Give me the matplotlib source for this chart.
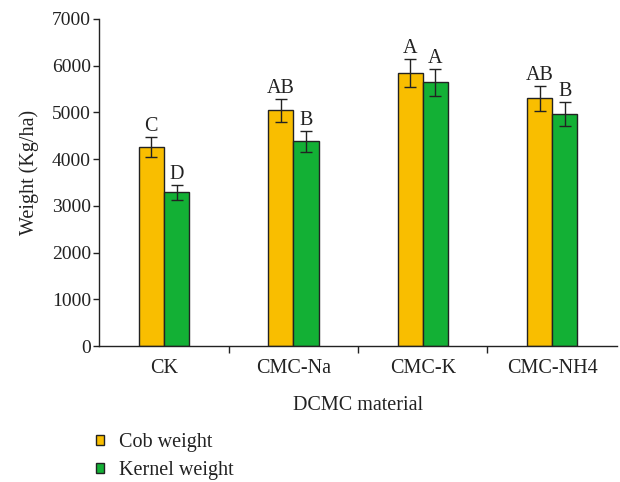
import matplotlib
matplotlib.use("Agg")
import matplotlib.pyplot as plt
import numpy as np

categories = ["CK", "CMC-Na", "CMC-K", "CMC-NH4"]
cob = [4260, 5040, 5840, 5300]
cob_err = [215, 250, 300, 265]
kernel = [3290, 4380, 5640, 4970]
kernel_err = [165, 220, 285, 255]
cob_letters = ["C", "AB", "A", "AB"]
kernel_letters = ["D", "B", "A", "B"]
yticks = [0, 1000, 2000, 3000, 4000, 5000, 6000, 7000]

plt.rcParams['font.family'] = ['Liberation Serif', 'DejaVu Serif']
tc = "#222222"

fig = plt.figure(figsize=(6.2, 4.82), dpi=100)
ax = fig.add_axes([0.16, 0.282, 0.835, 0.679])

x = np.arange(len(categories))
w = 0.195
c_cob = "#F9BE00"
c_ker = "#13B035"
ax.bar(x - w/2, cob, w, color=c_cob, edgecolor=tc, linewidth=1.0, label="Cob weight")
ax.bar(x + w/2, kernel, w, color=c_ker, edgecolor=tc, linewidth=1.0, label="Kernel weight")
ax.errorbar(x - w/2, cob, yerr=cob_err, fmt="none", ecolor=tc, elinewidth=1.0, capsize=4, capthick=1.0)
ax.errorbar(x + w/2, kernel, yerr=kernel_err, fmt="none", ecolor=tc, elinewidth=1.0, capsize=4, capthick=1.0)
for i in range(len(categories)):
    ax.text(x[i] - w/2, cob[i] + cob_err[i] + 20, cob_letters[i], ha="center", va="bottom", fontsize=14.5, color=tc)
    ax.text(x[i] + w/2, kernel[i] + kernel_err[i] + 20, kernel_letters[i], ha="center", va="bottom", fontsize=14.5, color=tc)

ax.set_xlim(-0.5, 3.5)
ax.set_ylim(0, 7000)
ax.set_yticks(yticks)
ax.set_xticks(x)
ax.set_xticklabels(categories, fontsize=14.5, color=tc)
ax.tick_params(axis="x", which="major", length=0, pad=9)
ax.set_xticks([0.5, 1.5, 2.5], minor=True)
ax.tick_params(axis="x", which="minor", length=5, width=1, direction="out", color=tc)
ax.tick_params(axis="y", labelsize=14, length=4, width=1, direction="out", pad=2, color=tc, labelcolor=tc)
for s in ["top", "right"]:
    ax.spines[s].set_visible(False)
for s in ["left", "bottom"]:
    ax.spines[s].set_linewidth(1.0)
    ax.spines[s].set_color(tc)
ax.set_ylabel("Weight (Kg/ha)", fontsize=14.5, color=tc)
ax.yaxis.set_label_coords(-0.117, 0.53)
ax.set_xlabel("DCMC material", fontsize=14.5, labelpad=13, color=tc)

handles, labels = ax.get_legend_handles_labels()
leg = fig.legend(handles, labels, loc="upper left", bbox_to_anchor=(0.155, 0.102), frameon=False,
                 fontsize=14.5, handlelength=0.4, handleheight=0.4, handletextpad=0.75, labelspacing=0.45,
                 borderaxespad=0, borderpad=0)
for t in leg.get_texts():
    t.set_color(tc)
fig.savefig("out.png", dpi=100)
